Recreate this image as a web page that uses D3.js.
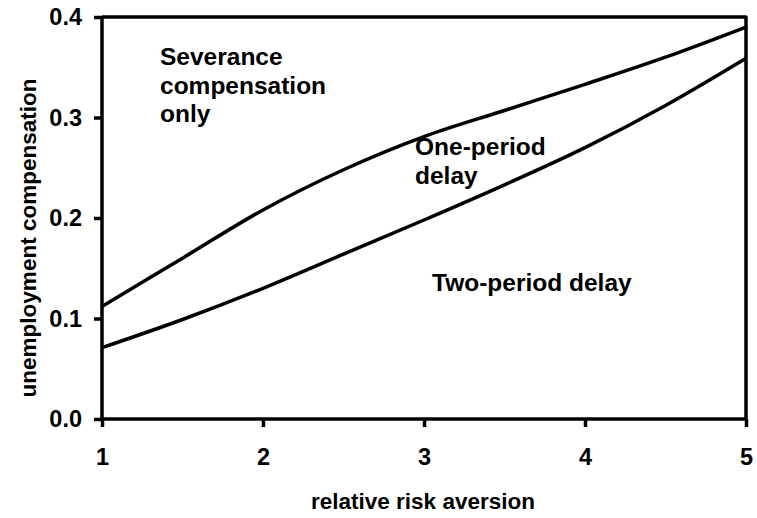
<!DOCTYPE html>
<html>
<head>
<meta charset="utf-8">
<script src="https://cdn.jsdelivr.net/npm/d3@7"></script>
<style>
  body { margin: 0; background: #fff; }
  text { font-family: Arial, "Liberation Sans", sans-serif; font-weight: bold; fill: #000; }
</style>
</head>
<body>
<svg></svg>
<script>
// Data
const riskAversion = [1, 1.5, 2, 2.5, 3, 3.5, 4, 4.5, 5];
const upperBoundary = [0.112, 0.160, 0.208, 0.248, 0.281, 0.307, 0.333, 0.360, 0.390];
const lowerBoundary = [0.071, 0.099, 0.130, 0.164, 0.198, 0.233, 0.270, 0.312, 0.359];
const xTicks = [1, 2, 3, 4, 5];
const yTicks = [0.0, 0.1, 0.2, 0.3, 0.4];

const width = 757, height = 518;
const svg = d3.select("svg").attr("width", width).attr("height", height);

// Plot area
const plotLeft = 102, plotRight = 746, plotTop = 17, plotBottom = 419;

const x = d3.scaleLinear().domain([1, 5]).range([plotLeft, plotRight]);
const y = d3.scaleLinear().domain([0, 0.4]).range([plotBottom, plotTop]);

const sw = 3.5;

// Axes
const xAxis = svg.append("g")
    .attr("transform", `translate(0,${plotBottom})`)
    .call(d3.axisBottom(x).tickValues(xTicks).tickSize(8).tickPadding(21).tickFormat(d3.format("d")));
const yAxis = svg.append("g")
    .attr("transform", `translate(${plotLeft},0)`)
    .call(d3.axisLeft(y).tickValues(yTicks).tickSize(8).tickPadding(12).tickFormat(d3.format(".1f")));

[xAxis, yAxis].forEach(g => {
  g.select(".domain").attr("stroke", "#000").attr("stroke-width", sw)
    .attr("d", g === xAxis ? `M${plotLeft},0H${plotRight}` : `M0,${plotBottom}V${plotTop}`);
  g.selectAll(".tick line").attr("stroke", "#000").attr("stroke-width", sw);
  g.selectAll(".tick text").attr("font-size", 23.5).attr("fill", "#000");
});

// Box top and right edges
svg.append("path")
    .attr("d", `M${plotLeft},${plotTop}H${plotRight}V${plotBottom}`)
    .attr("fill", "none").attr("stroke", "#000").attr("stroke-width", sw)
    .attr("stroke-linejoin", "round");

// Boundary curves
const line = d3.line()
    .x((d, i) => x(riskAversion[i]))
    .y(d => y(d))
    .curve(d3.curveCatmullRom);

[upperBoundary, lowerBoundary].forEach(series => {
  svg.append("path")
      .datum(series)
      .attr("d", line)
      .attr("fill", "none")
      .attr("stroke", "#000")
      .attr("stroke-width", sw);
});

// Region labels
const labels = [
  { lines: ["Severance", "compensation", "only"], x: 160, y: 65 },
  { lines: ["One-period", "delay"], x: 415, y: 155 },
  { lines: ["Two-period delay"], x: 432, y: 291 }
];
labels.forEach(l => {
  const t = svg.append("text").attr("font-size", 24.5);
  l.lines.forEach((s, i) => {
    t.append("tspan").attr("x", l.x).attr("y", l.y + i * 28.5).text(s);
  });
});

// Axis titles
svg.append("text")
    .attr("x", (plotLeft + plotRight) / 2 - 1)
    .attr("y", 509)
    .attr("text-anchor", "middle")
    .attr("font-size", 22.5)
    .text("relative risk aversion");

svg.append("text")
    .attr("transform", "translate(36,238) rotate(-90)")
    .attr("text-anchor", "middle")
    .attr("font-size", 22.5)
    .text("unemployment compensation");
</script>
</body>
</html>
